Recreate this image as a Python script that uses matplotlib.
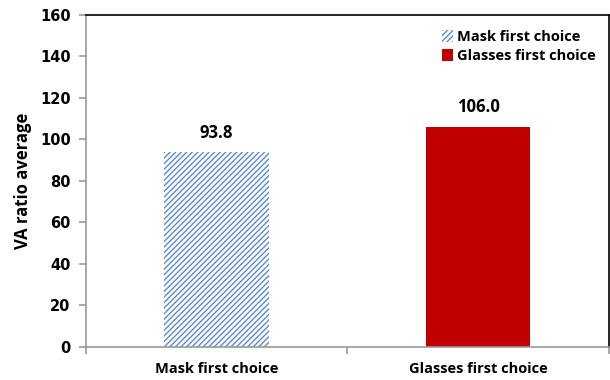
import numpy as np
import matplotlib.pyplot as plt

# VA ratio by first choice of correction
categories = ['Mask first choice', 'Glasses first choice']
va_ratio = [93.8, 106.0]
y_ticks = [0, 20, 40, 60, 80, 100, 120, 140, 160]

blue = '#5A8AD6'
red = '#C00000'
label_font = ['Open Sans', 'DejaVu Sans']

plt.rcParams['hatch.linewidth'] = 1.0

fig = plt.figure(figsize=(6.1, 3.8), dpi=100)
ax = fig.add_axes([0.141, 0.087, 0.857, 0.874])

x = np.arange(len(categories))
bars = ax.bar(x, va_ratio, width=0.4)
bars[0].set_facecolor('white')
bars[0].set_edgecolor(blue)
bars[0].set_hatch('//////')
bars[0].set_linewidth(0)
bars[1].set_facecolor(red)
bars[1].set_linewidth(0)

for xi, v in zip(x, va_ratio):
    ax.text(xi, v + 9.5, f'{v:.1f}', ha='center', va='center',
            fontsize=12, fontweight='bold', family=label_font)

ax.set_xlim(-0.5, 1.5)
ax.set_ylim(0, 160)
ax.set_yticks(y_ticks)
ax.set_xticks(x)
ax.set_xticklabels(categories, fontsize=10.5, fontweight='bold', family=label_font)
ax.set_xticks([-0.5, 0.5, 1.5], minor=True)
ax.tick_params(axis='x', which='major', length=0, pad=11)
ax.tick_params(axis='x', which='minor', length=5, color='#999999', width=1.2)
ax.tick_params(axis='y', length=5, color='#999999', width=1.2, pad=6)
for lab in ax.get_yticklabels():
    lab.set_fontweight('bold')
    lab.set_fontsize(10.5)

ax.set_ylabel('VA ratio average', fontsize=12, fontweight='bold',
              family=label_font, labelpad=6)

for side in ['left', 'bottom']:
    ax.spines[side].set_color('#999999')
    ax.spines[side].set_linewidth(1.2)
for side in ['top', 'right']:
    ax.spines[side].set_color('black')
    ax.spines[side].set_linewidth(1.2)

leg = ax.legend(bars, categories, loc='upper right', bbox_to_anchor=(1.0, 0.995),
                frameon=False, handlelength=0.7, handleheight=0.9,
                handletextpad=0.3, labelspacing=0.35,
                prop={'family': label_font, 'weight': 'bold', 'size': 10.5})

fig.savefig('out.png', dpi=100)
